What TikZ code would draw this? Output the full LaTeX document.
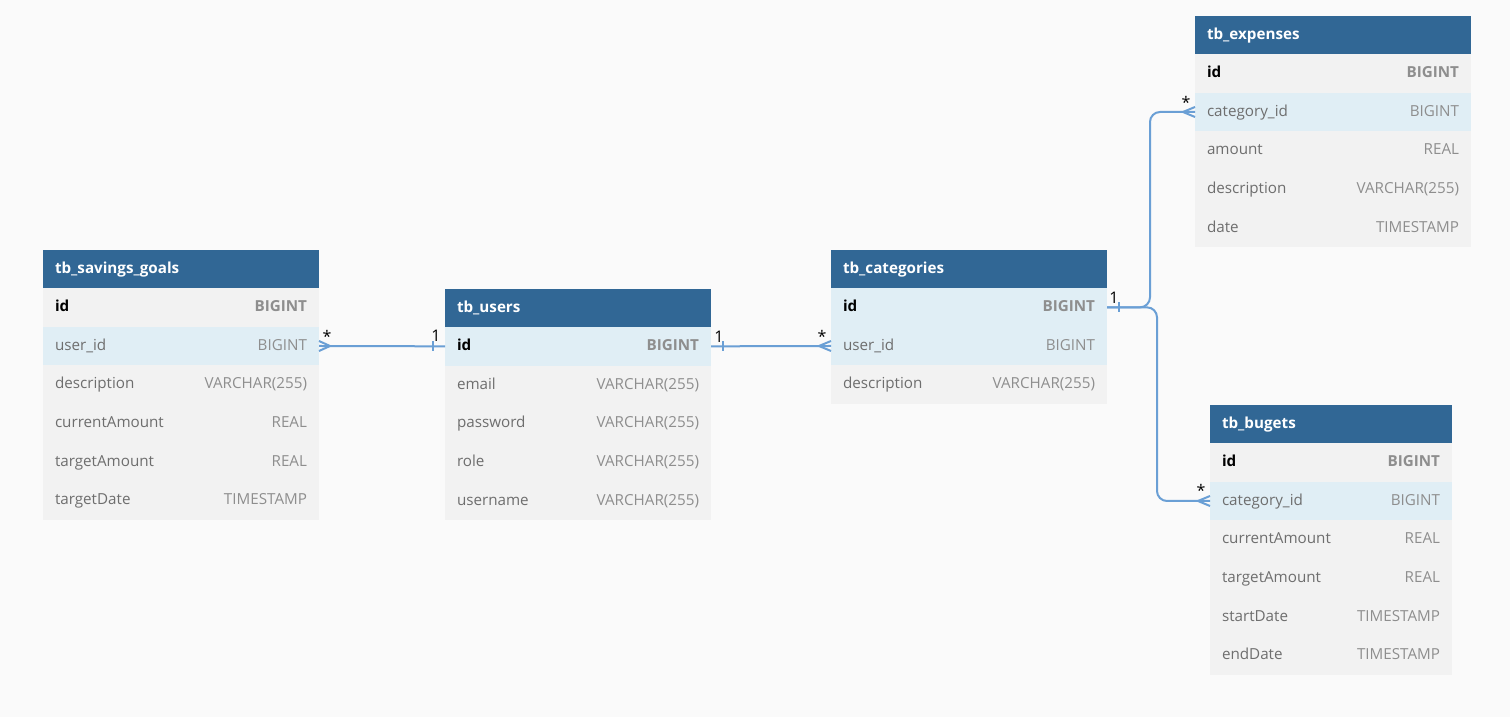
\documentclass[tikz,border=0pt]{standalone}
\usepackage{fontspec}
\setmainfont{Open Sans}
\usetikzlibrary{positioning}
\definecolor{bgcol}{HTML}{FAFAFA}
\definecolor{hdrblue}{HTML}{316795}
\definecolor{rowgray}{HTML}{F2F2F2}
\definecolor{rowblue}{HTML}{E0EEF5}
\definecolor{fieldgray}{HTML}{6E6E6E}
\definecolor{typegray}{HTML}{8E8E8E}
\definecolor{connblue}{HTML}{6A9FD5}

\tikzset{
  tbhead/.style={fill=hdrblue, text=white, font=\fontsize{7.6}{9}\selectfont\bfseries,
    minimum height=19pt, inner xsep=6pt, inner ysep=0pt, outer sep=0pt, anchor=north west,
    text height=6pt, text depth=1.8pt},
  tbrow/.style={fill=rowgray, text=fieldgray, font=\fontsize{7.6}{9}\selectfont,
    minimum height=19.33pt, inner xsep=6pt, inner ysep=0pt, outer sep=0pt,
    text height=6pt, text depth=1.8pt},
  tbfk/.style={tbrow, fill=rowblue},
  tbkey/.style={tbrow, text=black, font=\fontsize{7.6}{9}\selectfont\bfseries},
  tbkeyfk/.style={tbkey, fill=rowblue},
  conn/.style={draw=connblue, line width=1pt},
  card/.style={font=\fontsize{8}{9}\selectfont, inner sep=0pt}
}
% one row of a table, placed under the previous one
\newcommand{\tbrow}[6][tbrow]{\node[#1, text width=#4, below=0pt of #3] (#2) {#5\hfill\textcolor{typegray}{#6}};}

\begin{document}
\begin{tikzpicture}[x=0.5pt, y=-0.5pt]
	\fill[bgcol] (0,0) rectangle (1510,717);

	% tb_savings_goals
	\node[tbhead, text width=126pt] (sg) at (43,250) {tb\_savings\_goals};
	\tbrow[tbkey]{sg-id}{sg}{126pt}{id}{BIGINT}
	\tbrow[tbfk]{sg-uid}{sg-id}{126pt}{user\_id}{BIGINT}
	\tbrow{sg-desc}{sg-uid}{126pt}{description}{VARCHAR(255)}
	\tbrow{sg-cur}{sg-desc}{126pt}{currentAmount}{REAL}
	\tbrow{sg-tgt}{sg-cur}{126pt}{targetAmount}{REAL}
	\tbrow{sg-date}{sg-tgt}{126pt}{targetDate}{TIMESTAMP}

	% tb_users
	\node[tbhead, text width=121pt] (us) at (445,289) {tb\_users};
	\tbrow[tbkeyfk]{us-id}{us}{121pt}{id}{BIGINT}
	\tbrow{us-mail}{us-id}{121pt}{email}{VARCHAR(255)}
	\tbrow{us-pw}{us-mail}{121pt}{password}{VARCHAR(255)}
	\tbrow{us-role}{us-pw}{121pt}{role}{VARCHAR(255)}
	\tbrow{us-name}{us-role}{121pt}{username}{VARCHAR(255)}

	% tb_categories
	\node[tbhead, text width=126pt] (ca) at (831,250) {tb\_categories};
	\tbrow[tbkeyfk]{ca-id}{ca}{126pt}{id}{BIGINT}
	\tbrow[tbfk]{ca-uid}{ca-id}{126pt}{user\_id}{BIGINT}
	\tbrow{ca-desc}{ca-uid}{126pt}{description}{VARCHAR(255)}

	% tb_expenses
	\node[tbhead, text width=126pt] (ex) at (1195,16) {tb\_expenses};
	\tbrow[tbkey]{ex-id}{ex}{126pt}{id}{BIGINT}
	\tbrow[tbfk]{ex-cid}{ex-id}{126pt}{category\_id}{BIGINT}
	\tbrow{ex-amt}{ex-cid}{126pt}{amount}{REAL}
	\tbrow{ex-desc}{ex-amt}{126pt}{description}{VARCHAR(255)}
	\tbrow{ex-date}{ex-desc}{126pt}{date}{TIMESTAMP}

	% tb_bugets
	\node[tbhead, text width=109pt] (bu) at (1210,405) {tb\_bugets};
	\tbrow[tbkey]{bu-id}{bu}{109pt}{id}{BIGINT}
	\tbrow[tbfk]{bu-cid}{bu-id}{109pt}{category\_id}{BIGINT}
	\tbrow{bu-cur}{bu-cid}{109pt}{currentAmount}{REAL}
	\tbrow{bu-tgt}{bu-cur}{109pt}{targetAmount}{REAL}
	\tbrow{bu-start}{bu-tgt}{109pt}{startDate}{TIMESTAMP}
	\tbrow{bu-end}{bu-start}{109pt}{endDate}{TIMESTAMP}

	% savings goals -- users
	\draw[conn] (sg-uid.east) -- (us-id.west);
	\draw[conn] (sg-uid.east) ++(0,-5) -- ++(11,5) -- ++(-11,5);
	\draw[conn] (us-id.west) ++(-12,-5) -- ++(0,10);
	\node[card] (m1) at (327,336) {*};
	\node[card] (o1) at (436,336) {1};

	% users -- categories
	\draw[conn] (us-id.east) -- (ca-uid.west);
	\draw[conn] (us-id.east) ++(12,-5) -- ++(0,10);
	\draw[conn] (ca-uid.west) ++(0,-5) -- ++(-12,5) -- ++(12,5);
	\node[card] (o2) at (719,337) {1};
	\node[card] (m2) at (822,336) {*};

	% categories -- expenses, categories -- bugets
	\draw[conn, rounded corners=5pt] (ca-id.east) -- ++(43,0) |- (ex-cid.west);
	\draw[conn, rounded corners=5pt] (ca-id.east) -- ++(50,0) |- (bu-cid.west);
	\draw[conn] (ca-id.east) ++(12,-5) -- ++(0,10);
	\draw[conn] (ex-cid.west) ++(0,-5) -- ++(-12,5) -- ++(12,5);
	\draw[conn] (bu-cid.west) ++(0,-5) -- ++(-12,5) -- ++(12,5);
	\node[card] (o3) at (1114,298) {1};
	\node[card] (m3) at (1186,102) {*};
	\node[card] (m4) at (1201,490) {*};
\end{tikzpicture}
\end{document}
